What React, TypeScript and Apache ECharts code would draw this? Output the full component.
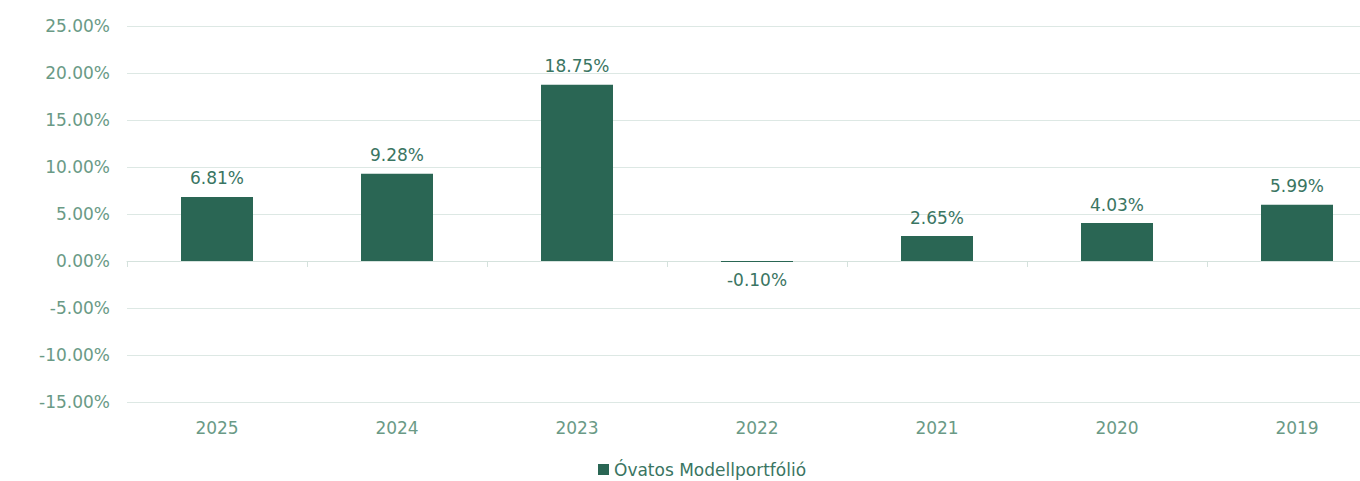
import React, { useEffect, useRef } from "react";
import * as echarts from "echarts";

const categories = ["2025", "2024", "2023", "2022", "2021", "2020", "2019"];
const values = [6.81, 9.28, 18.75, -0.1, 2.65, 4.03, 5.99];
const seriesName = "Óvatos Modellportfólió";
const yMin = -15;
const yMax = 25;
const yInterval = 5;

export default function App() {
  const ref = useRef<HTMLDivElement>(null);
  useEffect(() => {
    if (!ref.current) return;
    const chart = echarts.init(ref.current, null, { renderer: "svg" });
    const font = "'DejaVu Sans', 'Open Sans', sans-serif";
    chart.setOption({
      animation: false,
      grid: {
        left: 127,
        right: -27,
        top: 26,
        bottom: 79,
        containLabel: false,
        outerBoundsMode: "none",
      },
      legend: {
        show: true,
        left: 598,
        top: 461,
        itemWidth: 11,
        itemHeight: 11,
        itemGap: 4,
        icon: "rect",
        padding: 0,
        textStyle: { color: "#3a7562", fontSize: 17, fontFamily: font },
        data: [seriesName],
      },
      xAxis: {
        type: "category",
        data: categories,
        axisLine: { show: true, lineStyle: { color: "#d5e2dd", width: 1 } },
        axisTick: { show: true, alignWithLabel: false, length: 6, lineStyle: { color: "#d5e2dd" } },
        axisLabel: { color: "#6a9a86", fontSize: 17, fontFamily: font, margin: 17 },
      },
      yAxis: {
        type: "value",
        min: yMin,
        max: yMax,
        interval: yInterval,
        axisLine: { show: false },
        axisTick: { show: false },
        splitLine: { lineStyle: { color: "#dde8e4", width: 1 } },
        axisLabel: {
          color: "#6a9a86",
          fontSize: 17,
          fontFamily: font,
          margin: 17,
          formatter: (v: number) => v.toFixed(2) + "%",
        },
      },
      series: [
        {
          name: seriesName,
          type: "bar",
          barWidth: "40%",
          itemStyle: { color: "#2a6654" },
          label: {
            show: true,
            color: "#3a7562",
            fontSize: 17,
            fontFamily: font,
            distance: 10,
            formatter: (p: any) => p.value.toFixed(2) + "%",
          },
          data: values.map((v) => ({
            value: v,
            label: { position: v < 0 ? "bottom" : "top" },
          })),
        },
      ],
    });
    return () => chart.dispose();
  }, []);
  return (
    <div
      ref={ref}
      style={{ position: "fixed", left: 0, top: 0, width: 1360, height: 481, background: "#fff" }}
    />
  );
}
